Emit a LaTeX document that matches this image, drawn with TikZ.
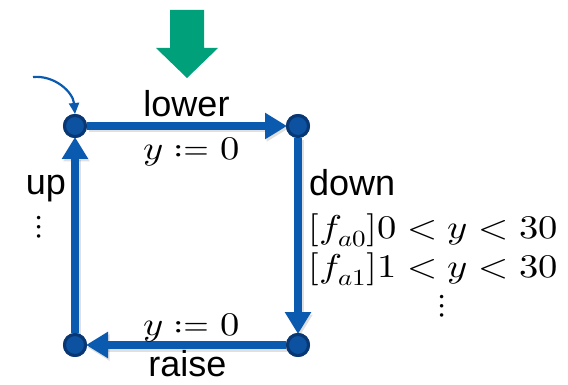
\documentclass[tikz,border=0pt]{standalone}
\usepackage{mathtools}
\usepackage{graphicx}
\usepackage{fontspec}
\usepackage{unicode-math}
\setmainfont{Liberation Sans}
\setmathfont{Latin Modern Math}
\usetikzlibrary{arrows.meta}
\definecolor{edgeblue}{RGB}{10,90,175}
\definecolor{nodeblue}{RGB}{12,82,160}
\definecolor{nodeedge}{RGB}{8,55,115}
\definecolor{arrgreen}{RGB}{0,160,122}
\newcommand{\wm}[1]{\scalebox{1.17}[1]{$#1$}}
\tikzset{
  state/.style={circle, fill=nodeblue, draw=nodeedge, line width=3pt, minimum size=21pt, inner sep=0pt},
  trans/.style={line width=8pt, draw=edgeblue, -{Triangle[length=22pt,width=25pt]}, shorten >=-1pt},
  transshadow/.style={line width=8pt, draw=black, opacity=0.12, -{Triangle[length=22pt,width=25pt]}, shorten >=-1pt, transform canvas={shift={(1.5pt,-2.5pt)}}},
  lbl/.style={inner sep=0pt, font=\fontsize{36}{42}\selectfont, anchor=base},
  mlbl/.style={inner sep=0pt, font=\fontsize{33}{39}\selectfont, anchor=base},
}
\begin{document}
\begin{tikzpicture}[x=1pt,y=-1pt]
\useasboundingbox (0,0) rectangle (568,385);
\node[state] (s0) at (75,126) {};
\node[state] (s1) at (298,126) {};
\node[state] (s2) at (298,345) {};
\node[state] (s3) at (75,345) {};
\draw[transshadow] (s0) -- (s1);
\draw[transshadow] (s1) -- (s2);
\draw[transshadow] (s2) -- (s3);
\draw[transshadow] (s3) -- (s0);
\draw[trans] (s0) -- (s1);
\draw[trans] (s1) -- (s2);
\draw[trans] (s2) -- (s3);
\draw[trans] (s3) -- (s0);
\node[state] at (s0) {};
\node[state] at (s1) {};
\node[state] at (s2) {};
\node[state] at (s3) {};
% initial arrow
\coordinate (init) at (33,77);
\draw[line width=2.2pt, edgeblue, -{Triangle[length=11pt,width=10pt]}] (init) to[out=5,in=95] (s0.north);
% green arrow
\fill[arrgreen] (170,10) -- (204,10) -- (204,48) -- (218,48) -- (187,78) -- (156,48) -- (170,48) -- cycle;
% labels
\node[lbl] (lower) at (186.5,117) {lower};
\node[mlbl] (ua) at (191.5,160) {\wm{y \coloneqq 0}};
\node[lbl, anchor=base west] (down) at (309,196) {down};
\node[mlbl, anchor=base west] (g0) at (308,238) {\wm{[f_{a0}]0<y<30}};
\node[mlbl, anchor=base west] (g1) at (308,277) {\wm{[f_{a1}]1<y<30}};
\node[mlbl] (vd1) at (442,314) {$\vdots$};
\node[lbl] (up) at (46,195) {up};
\node[mlbl] (vd2) at (39,236) {$\vdots$};
\node[mlbl] (ub) at (191.5,335) {\wm{y \coloneqq 0}};
\node[lbl] (raise) at (187.5,376) {raise};
\end{tikzpicture}
\end{document}
